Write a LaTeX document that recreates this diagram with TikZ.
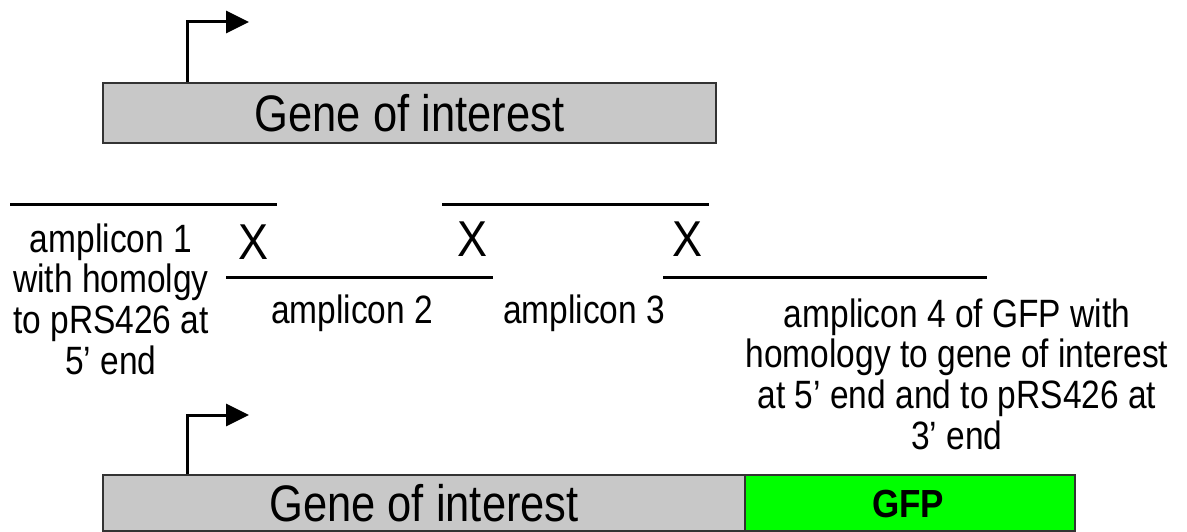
\documentclass[tikz,border=0pt]{standalone}
\usepackage{fontspec}
\setmainfont{Liberation Sans}
\usetikzlibrary{arrows.meta}
\definecolor{genegray}{RGB}{200,200,200}
\definecolor{gfpgreen}{RGB}{0,255,0}
\begin{document}
\begin{tikzpicture}[x=1pt,y=1pt,
  genebox/.style={draw=black!80, line width=1.5pt, inner sep=0pt},
  bigtext/.style={font=\fontsize{43.5}{45}\selectfont, transform shape, yscale=1.18},
  amptext/.style={font=\fontsize{33.5}{34.5}\selectfont, align=center, transform shape, yscale=1.18, inner sep=0pt},
  ampline/.style={line width=3pt},
  xmark/.style={font=\fontsize{45}{47}\selectfont, transform shape, yscale=1.12, inner sep=0pt},
  promoter/.style={line width=3pt, -{Triangle[length=23pt,width=22pt]}}
]
\useasboundingbox (0,0) rectangle (1187,531);
\clip (0,0) rectangle (1187,531);

% top gene
\node[genebox, fill=genegray, minimum width=613pt, minimum height=60pt] (gene1) at (409.5,418) {};
\node[bigtext] (gene1t) at (409.5,418) {Gene of interest};
\coordinate (p1) at (249,509);
\draw[promoter] ([xshift=85pt]gene1.north west) |- (p1);

% amplicon lines
\coordinate (a1s) at (10,326);  \coordinate (a1e) at (277,326);
\coordinate (a2s) at (226,253); \coordinate (a2e) at (493,253);
\coordinate (a3s) at (442,326); \coordinate (a3e) at (709,326);
\coordinate (a4s) at (663,253); \coordinate (a4e) at (987,253);
\draw[ampline] (a1s) -- (a1e);
\draw[ampline] (a2s) -- (a2e);
\draw[ampline] (a3s) -- (a3e);
\draw[ampline] (a4s) -- (a4e);

% crossover marks
\node[xmark] (x1) at (254,289) {X};
\node[xmark] (x2) at (473,292) {X};
\node[xmark] (x3) at (688,292) {X};

% labels
\node[amptext] (l1) at (111,232) {amplicon 1\\with homolgy\\to pRS426 at\\5’ end};
\node[amptext] (l2) at (352,218) {amplicon 2};
\node[amptext] (l3) at (584,218) {amplicon 3};
\node[amptext] (l4) at (957,157) {amplicon 4 of GFP with\\homology to gene of interest\\at 5’ end and to pRS426 at\\3’ end};

% bottom construct
\node[genebox, fill=genegray, minimum width=642pt, minimum height=56pt] (gene2) at (424,28) {};
\node[bigtext] (gene2t) at (424,28) {Gene of interest};
\node[genebox, fill=gfpgreen, minimum width=330pt, minimum height=56pt] (gfp) at (910,28) {};
\node[font=\fontsize{35}{37}\selectfont\bfseries, transform shape, yscale=1.12] (gfpt) at (908,27) {GFP};
\coordinate (p2) at (249,116);
\draw[promoter] ([xshift=85pt]gene2.north west) |- (p2);
\end{tikzpicture}
\end{document}
